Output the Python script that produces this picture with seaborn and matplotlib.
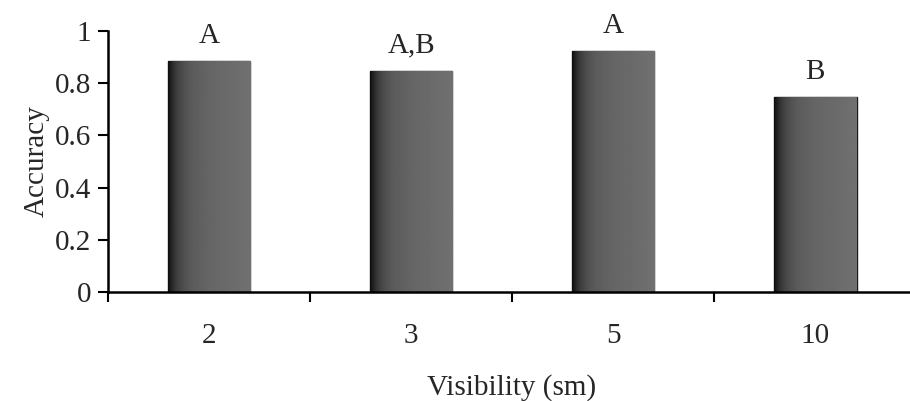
import matplotlib
matplotlib.use('Agg')
import matplotlib.pyplot as plt
import seaborn as sns
import numpy as np
import pandas as pd
from matplotlib.ticker import FixedLocator, NullFormatter

visibility = ['2', '3', '5', '10']
accuracy = [0.885, 0.847, 0.923, 0.747]
groups = ['A', 'A,B', 'A', 'B']

df = pd.DataFrame({'visibility': visibility, 'accuracy': accuracy})

sns.set_style('ticks')
plt.rcParams['font.family'] = ['Liberation Serif', 'DejaVu Serif']

fig = plt.figure(figsize=(9.1, 4.01), dpi=100)
ax = fig.add_axes([0.1187, 0.2718, 0.888, 0.6509])

sns.barplot(data=df, x='visibility', y='accuracy', color='#5e5e5e', saturation=1,
            width=0.41, edgecolor='#1a1a1a', linewidth=1.0, ax=ax)

# dark band on the left of each bar, then a flat mid grey, like the printed original
t = np.linspace(0, 1, 80)
shade = (0.36 + 0.08 * t - 0.3 * np.exp(-t / 0.12)).reshape(1, -1)
for bar in ax.patches:
    x0, y0 = bar.get_x(), bar.get_y()
    im = ax.imshow(shade, cmap='gray', vmin=0, vmax=1, aspect='auto',
                   extent=(x0, x0 + bar.get_width(), y0, y0 + bar.get_height()),
                   zorder=bar.get_zorder() + 0.1)
    im.set_clip_path(bar)

ax.bar_label(ax.containers[0], labels=groups, padding=9, fontsize=21)

ax.set_xlim(-0.5, 3.5)
ax.set_ylim(0, 1)
ax.set_yticks([0, 0.2, 0.4, 0.6, 0.8, 1])
ax.set_yticklabels(['0', '0.2', '0.4', '0.6', '0.8', '1'])

# ticks between the categories, labels centred under the bars
ax.xaxis.set_major_locator(FixedLocator([-0.5, 0.5, 1.5, 2.5, 3.5]))
ax.xaxis.set_major_formatter(NullFormatter())
ax.xaxis.set_minor_locator(FixedLocator([0, 1, 2, 3]))
ax.set_xticklabels(visibility, minor=True)
ax.tick_params(axis='x', which='major', direction='out', length=7, width=1.5, color='black')
ax.tick_params(axis='x', which='minor', length=0, pad=22, labelsize=21)
ax.tick_params(axis='y', direction='out', length=7, width=1.5, color='black', labelsize=21, pad=5)

for side in ['top', 'right']:
    ax.spines[side].set_visible(False)
for side in ['left', 'bottom']:
    ax.spines[side].set_linewidth(1.8)
    ax.spines[side].set_color('black')

ax.set_xlabel('Visibility (sm)', fontsize=21, labelpad=18)
ax.set_ylabel('Accuracy', fontsize=21, labelpad=4)

fig.savefig('out.png', dpi=100)
